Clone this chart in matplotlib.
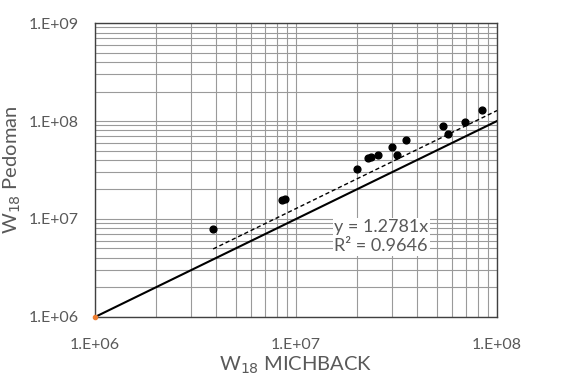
import numpy as np
import matplotlib.pyplot as plt
from matplotlib.ticker import LogLocator, FuncFormatter

# W18 values
w18_michback = [3.87e6, 8.49e6, 8.85e6, 2.0e7, 2.27e7, 2.37e7, 2.55e7,
                3.0e7, 3.18e7, 3.54e7, 5.41e7, 5.71e7, 6.96e7, 8.45e7]
w18_pedoman = [7.85e6, 1.56e7, 1.61e7, 3.24e7, 4.22e7, 4.29e7, 4.47e7,
               5.43e7, 4.47e7, 6.45e7, 8.89e7, 7.31e7, 9.77e7, 1.30e8]
slope = 1.2781
r2 = 0.9646
equal_line = [1e6, 1e8]

plt.rcParams['font.family'] = ['Lato', 'DejaVu Sans']
grey = '#595959'

fig = plt.figure(figsize=(5.74, 3.79), dpi=100)
ax = fig.add_axes([0.1655, 0.1636, 0.7004, 0.7757])

ax.set_xscale('log')
ax.set_yscale('log')
ax.set_xlim(1e6, 1e8)
ax.set_ylim(1e6, 1e9)

ax.xaxis.set_major_locator(LogLocator(base=10))
ax.yaxis.set_major_locator(LogLocator(base=10))
ax.xaxis.set_minor_locator(LogLocator(base=10, subs=np.arange(2, 10)))
ax.yaxis.set_minor_locator(LogLocator(base=10, subs=np.arange(2, 10)))
fmt = FuncFormatter(lambda v, p: '1.E+%02d' % round(np.log10(v)))
ax.xaxis.set_major_formatter(fmt)
ax.yaxis.set_major_formatter(fmt)
ax.xaxis.set_minor_formatter(FuncFormatter(lambda v, p: ''))
ax.yaxis.set_minor_formatter(FuncFormatter(lambda v, p: ''))

ax.grid(True, which='both', color='#9a9a9a', lw=0.8)
ax.set_axisbelow(True)
ax.tick_params(which='both', length=0, labelsize=11.5, labelcolor=grey)
ax.tick_params(axis='x', pad=15)
ax.tick_params(axis='y', pad=12)
for s in ax.spines.values():
    s.set_color('#404040')
    s.set_linewidth(1.0)

# line of equality
ax.plot(equal_line, equal_line, color='black', lw=1.5, zorder=3)
ax.plot([1e6], [1e6], 'o', color='#ed7d31', ms=3, zorder=4, clip_on=False)

# trend line through origin
xt = np.array([min(w18_michback), 1e8])
ax.plot(xt, slope * xt, '--', color='black', lw=1.0, dashes=(3, 2), zorder=3)

ax.scatter(w18_michback, w18_pedoman, s=24, color='black', zorder=5)

ax.text(2.65e7, 6.6e6, 'y = %.4fx\nR² = %.4f' % (slope, r2), ha='center', va='center',
        fontsize=13, color=grey, linespacing=1.25,
        bbox=dict(facecolor='white', edgecolor='none', pad=1), zorder=6)

ax.set_xlabel('W$_{18}$ MICHBACK', fontsize=14.5, color=grey, labelpad=2)
ax.set_ylabel('W$_{18}$ Pedoman', fontsize=14.5, color=grey, labelpad=4)

fig.savefig('out.png', dpi=100)
